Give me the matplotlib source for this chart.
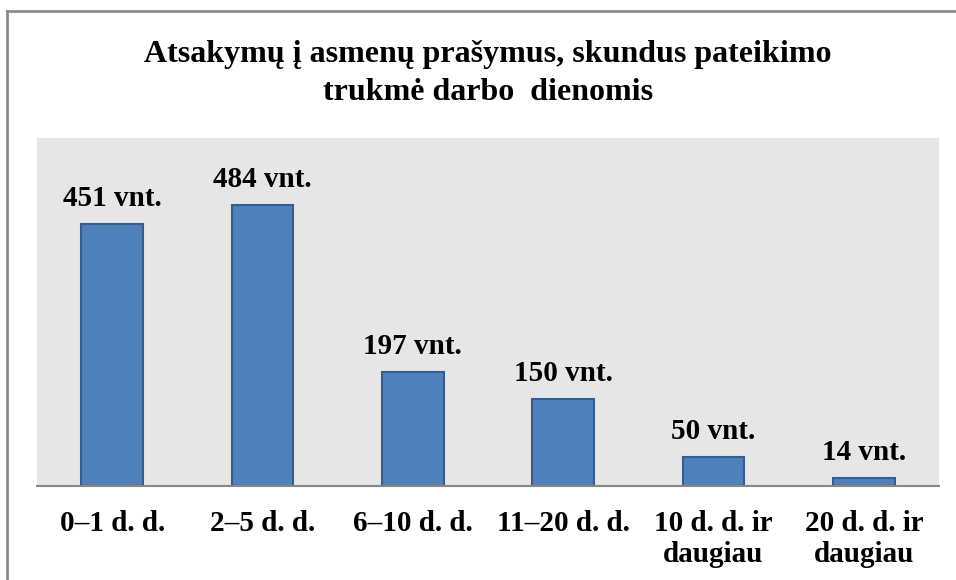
import matplotlib
matplotlib.use("Agg")
import matplotlib.pyplot as plt
from matplotlib.lines import Line2D

categories = ["0–1 d. d.", "2–5 d. d.", "6–10 d. d.", "11–20 d. d.", "10 d. d. ir\ndaugiau", "20 d. d. ir\ndaugiau"]
values = [451, 484, 197, 150, 50, 14]
value_labels = ["451 vnt.", "484 vnt.", "197 vnt.", "150 vnt.", "50 vnt.", "14 vnt."]
title = "Atsakymų į asmenų prašymus, skundus pateikimo\ntrukmė darbo  dienomis"

FONT = "Liberation Serif"
W, H = 956, 580
fig = plt.figure(figsize=(W / 100, H / 100), dpi=100)
fig.patch.set_facecolor("white")

ax = fig.add_axes([37 / W, 1 - 486 / H, (939 - 37) / W, (486 - 138) / H])
ax.set_facecolor("#E6E6E6")
x = list(range(len(categories)))
bars = ax.bar(x, values, width=0.41, color="#4F81BD", edgecolor="#385D8A", linewidth=1.5, zorder=2)
ax.set_xlim(-0.5, len(categories) - 0.5)
ax.set_ylim(0, 600)
ax.set_yticks([])
for s in ["top", "right", "left"]:
    ax.spines[s].set_visible(False)
ax.spines["bottom"].set_color("#868686")
ax.spines["bottom"].set_linewidth(1.5)
ax.spines["bottom"].set_zorder(3)
ax.set_xticks(x)
ax.set_xticklabels(categories, fontfamily=FONT, fontweight="bold", fontsize=21, linespacing=1.2, va="top")
ax.tick_params(axis="x", length=0, pad=17)

for xi, v, lab in zip(x, values, value_labels):
    ax.annotate(lab, (xi, v), xytext=(0, 13), textcoords="offset points",
                ha="center", va="baseline", fontfamily=FONT, fontweight="bold", fontsize=21)

fig.text(488 / W, 1 - 40 / H, title, ha="center", va="top", fontfamily=FONT,
         fontweight="bold", fontsize=23, linespacing=1.4)

fig.add_artist(Line2D([7 / W, 7 / W], [0, 1 - 11 / H], transform=fig.transFigure, color="#8C8C8C", linewidth=2))
fig.add_artist(Line2D([7 / W, 1], [1 - 11 / H, 1 - 11 / H], transform=fig.transFigure, color="#8C8C8C", linewidth=2))

fig.savefig("out.png", dpi=100)
